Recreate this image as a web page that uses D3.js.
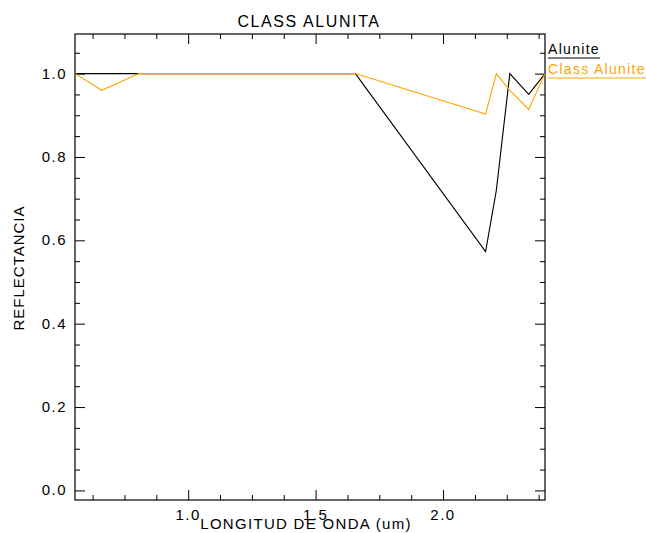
<!DOCTYPE html>
<html>
<head>
<meta charset="utf-8">
<script src="https://cdn.jsdelivr.net/npm/d3@7"></script>
<style>
  body { margin: 0; background: #fff; }
  text { font-family: "Liberation Sans", "DejaVu Sans", sans-serif; fill: #000; }
</style>
</head>
<body>
<svg id="chart" width="646" height="533"></svg>
<script>
// ASTER band centres (um) and reflectance
var wavelengths = [0.556, 0.661, 0.807, 1.656, 2.167, 2.209, 2.262, 2.336, 2.400];
var alunite      = [1.0, 1.0, 1.0, 1.0, 0.573, 0.72, 1.0, 0.95, 1.0];
var classAlunite = [1.0, 0.96, 1.0, 1.0, 0.903, 1.0, 0.96, 0.914, 1.0];
var xMajor = [1.0, 1.5, 2.0];
var xMinor = [0.625, 0.75, 0.875, 1.125, 1.25, 1.375, 1.625, 1.75, 1.875, 2.125, 2.25, 2.375];
var yMajor = [0.0, 0.2, 0.4, 0.6, 0.8, 1.0];
var yMinor = [0.05, 0.1, 0.15, 0.25, 0.3, 0.35, 0.45, 0.5, 0.55, 0.65, 0.7, 0.75, 0.85, 0.9, 0.95, 1.05];

var plotL = 75, plotR = 545, plotT = 34, plotB = 500;
var svg = d3.select("#chart");

var x = d3.scaleLinear().domain([0.556, 2.400]).range([plotL, plotR]);
var y = d3.scaleLinear().domain([-0.023, 1.095]).range([plotB, plotT]);

function axis(gen, vals, size, tx, ty) {
	var g = svg.append("g")
		.attr("transform", "translate(" + tx + "," + ty + ")")
		.call(gen.tickValues(vals).tickSize(size).tickSizeOuter(0).tickFormat(function() { return ""; }));
	g.select(".domain").remove();
	g.selectAll("line").attr("stroke", "#000").attr("stroke-width", 1);
	return g;
}
var fmt1 = d3.format(".1f");

// bottom / top ticks point inward
axis(d3.axisTop(x), xMajor, 10, 0, plotB);
axis(d3.axisTop(x), xMinor, 5, 0, plotB);
axis(d3.axisBottom(x), xMajor, 10, 0, plotT);
axis(d3.axisBottom(x), xMinor, 5, 0, plotT);
svg.append("g").selectAll("text").data(xMajor).join("text")
	.attr("x", function(d) { return x(d); })
	.attr("y", plotB + 20)
	.attr("text-anchor", "middle")
	.style("font-size", "15px").style("letter-spacing", "1.5px")
	.text(fmt1);

// left / right
axis(d3.axisRight(y), yMajor, 10, plotL, 0);
axis(d3.axisRight(y), yMinor, 5, plotL, 0);
axis(d3.axisLeft(y), yMajor, 10, plotR, 0);
axis(d3.axisLeft(y), yMinor, 5, plotR, 0);
svg.append("g").selectAll("text").data(yMajor).join("text")
	.attr("x", plotL - 8)
	.attr("y", function(d) { return y(d) + 5; })
	.attr("text-anchor", "end")
	.style("font-size", "15px").style("letter-spacing", "1.5px")
	.text(fmt1);

// frame
svg.append("rect")
	.attr("x", plotL).attr("y", plotT)
	.attr("width", plotR - plotL).attr("height", plotB - plotT)
	.attr("fill", "none").attr("stroke", "#000").attr("stroke-width", 1.2);

var line = d3.line()
	.x(function(d) { return x(d[0]); })
	.y(function(d) { return y(d[1]); });

svg.append("path")
	.datum(d3.zip(wavelengths, alunite))
	.attr("d", line)
	.attr("fill", "none").attr("stroke", "#000").attr("stroke-width", 1.1);

svg.append("path")
	.datum(d3.zip(wavelengths, classAlunite))
	.attr("d", line)
	.attr("fill", "none").attr("stroke", "#ffa500").attr("stroke-width", 1.1);

// titles
svg.append("text")
	.attr("x", 309).attr("y", 27)
	.attr("text-anchor", "middle")
	.style("font-size", "16px").style("letter-spacing", "1.6px")
	.text("CLASS ALUNITA");

svg.append("text")
	.attr("x", 306).attr("y", 529)
	.attr("text-anchor", "middle")
	.style("font-size", "15px").style("letter-spacing", "1.3px")
	.text("LONGITUD DE ONDA (um)");

svg.append("text")
	.attr("transform", "translate(24," + 268 + ") rotate(-90)")
	.attr("text-anchor", "middle")
	.style("font-size", "15px").style("letter-spacing", "1px")
	.text("REFLECTANCIA");

// legend
var legend = [["Alunite", "#000"], ["Class Alunite", "#ffa500"]];
legend.forEach(function(d, i) {
	var t = svg.append("text")
		.attr("x", 548).attr("y", 54 + i * 20)
		.style("font-size", "14px").style("letter-spacing", "1.3px")
		.style("fill", d[1])
		.text(d[0]);
	var w = t.node().getComputedTextLength();
	svg.append("line")
		.attr("x1", 548).attr("x2", 548 + w)
		.attr("y1", 58 + i * 20).attr("y2", 58 + i * 20)
		.attr("stroke", d[1]).attr("stroke-width", 1.2);
});
</script>
</body>
</html>
